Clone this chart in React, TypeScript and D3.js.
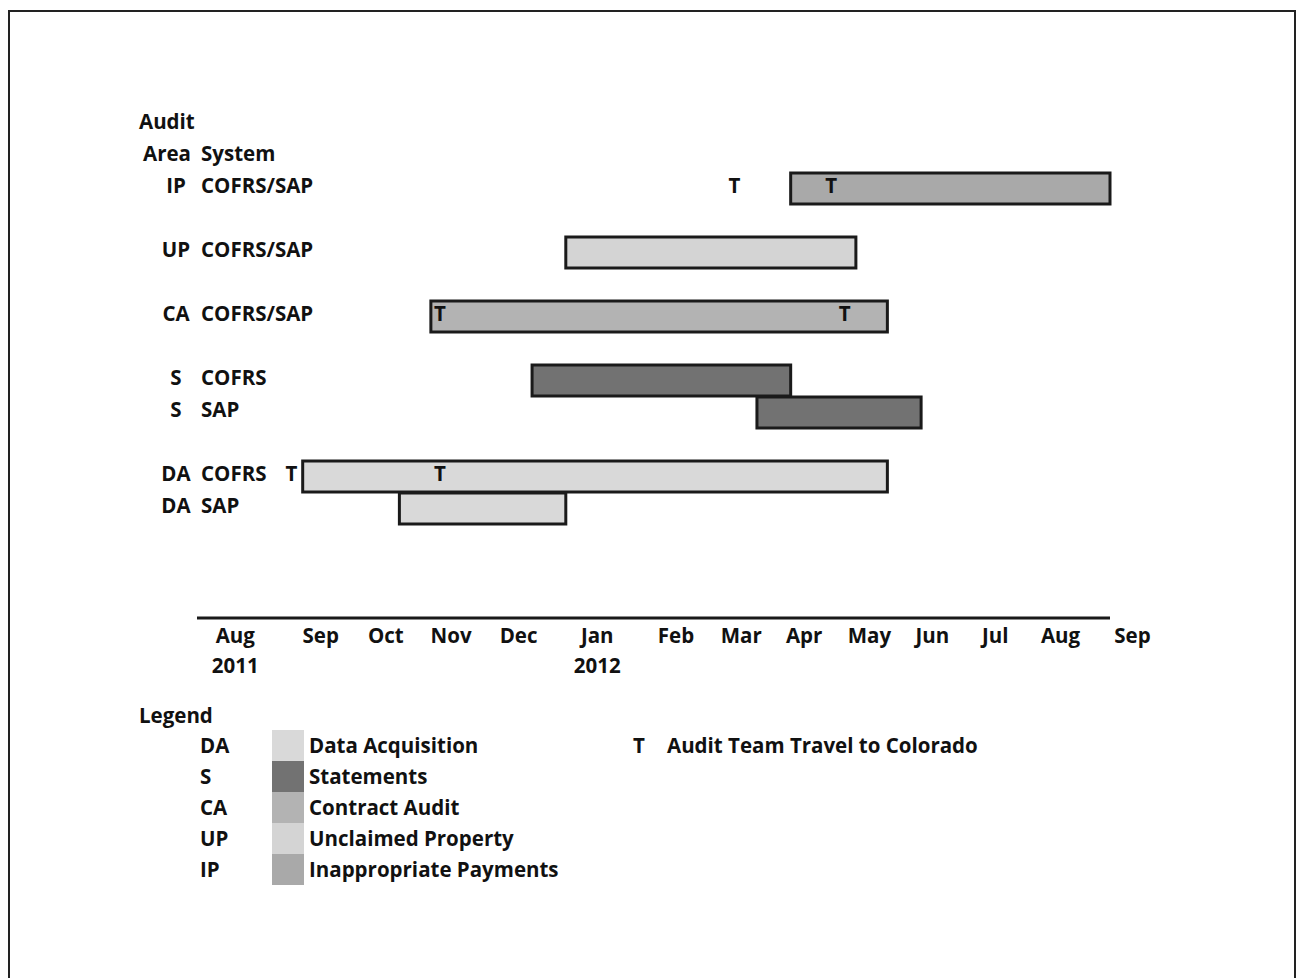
import React from "react";
import * as d3 from "d3";

// ---- data ----
const rowKeys = ["h1", "h2", "IP", "g1", "UP", "g2", "CA", "g3", "S1", "S2", "g4", "DA1", "DA2"];
const rowAreas = ["", "", "IP", "", "UP", "", "CA", "", "S", "S", "", "DA", "DA"];
const rowSystems = ["", "", "COFRS/SAP", "", "COFRS/SAP", "", "COFRS/SAP", "", "COFRS", "SAP", "", "COFRS", "SAP"];

const taskRows = ["IP", "UP", "CA", "S1", "S2", "DA1", "DA2"];
const taskTypes = ["IP", "UP", "CA", "S", "S", "DA", "DA"];
const taskStarts = ["2012-04-12", "2012-01-03", "2011-11-04", "2011-12-19", "2012-03-28", "2011-09-08", "2011-10-21"];
const taskEnds = ["2012-09-01", "2012-05-11", "2012-05-25", "2012-04-12", "2012-06-09", "2012-05-25", "2012-01-03"];

const travelRows = ["IP", "IP", "CA", "CA", "DA1", "DA1"];
const travelDates = ["2012-03-18", "2012-04-30", "2011-11-08", "2012-05-06", "2011-09-03", "2011-11-08"];

const tickMonths = ["Aug", "Sep", "Oct", "Nov", "Dec", "Jan", "Feb", "Mar", "Apr", "May", "Jun", "Jul", "Aug", "Sep"];
const tickYears = ["2011", "", "", "", "", "2012", "", "", "", "", "", "", "", ""];
const tickDates = ["2011-08-09", "2011-09-16", "2011-10-15", "2011-11-13", "2011-12-13", "2012-01-17", "2012-02-21",
  "2012-03-21", "2012-04-18", "2012-05-17", "2012-06-14", "2012-07-12", "2012-08-10", "2012-09-11"];

const legendCodes = ["DA", "S", "CA", "UP", "IP"];
const legendNames = ["Data Acquisition", "Statements", "Contract Audit", "Unclaimed Property", "Inappropriate Payments"];
const typeColors: Record<string, string> = {
  DA: "#d9d9d9",
  S: "#727272",
  CA: "#b3b3b3",
  UP: "#d4d4d4",
  IP: "#a9a9a9",
};

const parse = (s: string) => {
  const [y, m, d] = s.split("-").map(Number);
  return new Date(y, m - 1, d);
};

export default function App() {
  const W = 1297, H = 978;
  const font = "'Open Sans', sans-serif";
  const fs = 20.5;

  const x = d3.scaleTime().domain([parse("2011-07-23"), parse("2012-09-01")]).range([197, 1110]);
  const y = d3.scaleBand<string>().domain(rowKeys).range([108, 108 + 32 * rowKeys.length]).padding(0);
  const bh = y.bandwidth();

  const legendY = d3.scaleBand<string>().domain(legendCodes).range([730, 730 + 31 * legendCodes.length]);

  return (
    <svg width={W} height={H} style={{ position: "absolute", left: 0, top: 0, background: "#fff" }}
      fontFamily={font} fontWeight="bold" fontSize={fs} fill="#111">
      {/* frame */}
      <rect x={9} y={11} width={1286} height={H + 20} fill="none" stroke="#222" strokeWidth={2} />

      {/* headers */}
      <text x={139} y={(y("h1") as number) + 21}>Audit</text>
      <text x={143} y={(y("h2") as number) + 21}>Area</text>
      <text x={201} y={(y("h2") as number) + 21}>System</text>

      {/* row labels */}
      {rowKeys.map((k, i) => rowAreas[i] ? (
        <g key={k}>
          <text x={176} y={(y(k) as number) + 21} textAnchor="middle">{rowAreas[i]}</text>
          <text x={201} y={(y(k) as number) + 21}>{rowSystems[i]}</text>
        </g>
      ) : null)}

      {/* bars */}
      {taskRows.map((r, i) => {
        const x0 = x(parse(taskStarts[i]));
        const x1 = x(parse(taskEnds[i]));
        return (
          <rect key={r} x={x0} y={(y(r) as number) + 1} width={x1 - x0} height={bh - 1}
            fill={typeColors[taskTypes[i]]} stroke="#1a1a1a" strokeWidth={3} />
        );
      })}

      {/* travel markers */}
      {travelRows.map((r, i) => (
        <text key={i} x={x(parse(travelDates[i]))} y={(y(r) as number) + 21} textAnchor="middle">T</text>
      ))}

      {/* axis */}
      <line x1={x.range()[0]} x2={x.range()[1]} y1={618} y2={618} stroke="#1a1a1a" strokeWidth={3} />
      {tickDates.map((d, i) => (
        <g key={i}>
          <text x={x(parse(d))} y={643} textAnchor="middle">{tickMonths[i]}</text>
          {tickYears[i] && <text x={x(parse(d))} y={673} textAnchor="middle">{tickYears[i]}</text>}
        </g>
      ))}

      {/* legend */}
      <text x={139} y={723}>Legend</text>
      {legendCodes.map((c, i) => {
        const ly = legendY(c) as number;
        return (
          <g key={c}>
            <text x={200} y={ly + 23}>{c}</text>
            <rect x={272} y={ly} width={32} height={legendY.bandwidth()} fill={typeColors[c]} />
            <text x={309} y={ly + 23}>{legendNames[i]}</text>
          </g>
        );
      })}
      <text x={633} y={(legendY("DA") as number) + 23}>T</text>
      <text x={667} y={(legendY("DA") as number) + 23}>Audit Team Travel to Colorado</text>
    </svg>
  );
}
